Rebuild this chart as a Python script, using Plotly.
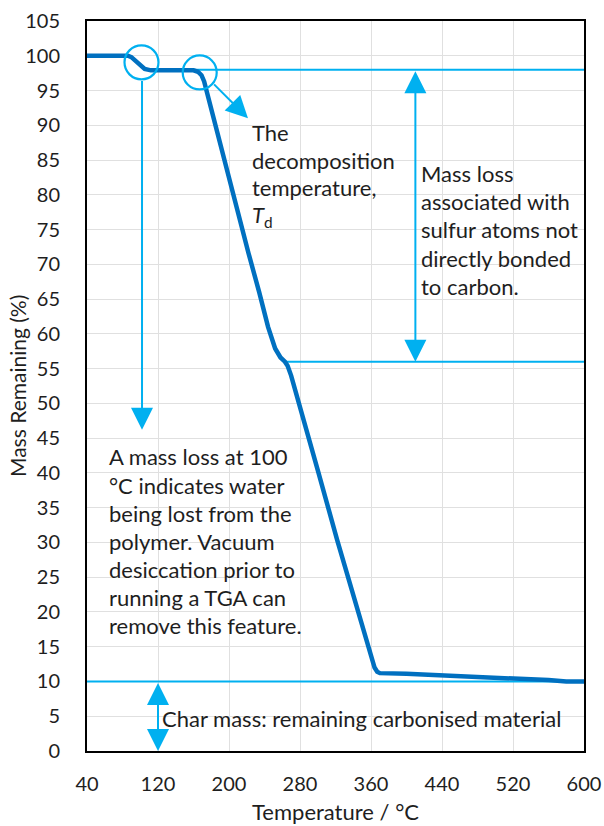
import plotly.graph_objects as go

# ---- data ----
temperature = [40, 86, 90, 95, 100, 105, 112, 160, 165, 169, 172, 176, 182, 190, 200, 212, 222, 234, 244,
               252, 258, 263, 266, 270, 275, 280, 300, 322, 340, 355, 360, 364, 367, 370, 400, 440, 480,
               520, 560, 580, 600]
mass = [100, 100, 99.8, 99.2, 98.5, 98.1, 97.9, 97.9, 97.7, 97.2, 96.3, 94.3, 91.0, 87.3, 82.6, 76.5, 71.6,
        66.0, 61.0, 57.9, 56.6, 56.0, 55.4, 54.0, 51.8, 49.6, 40.4, 30.3, 22.3, 16.0, 13.8, 12.0, 11.4,
        11.2, 11.1, 10.9, 10.7, 10.5, 10.2, 10.0, 10.0]

x_ticks = [40, 120, 200, 280, 360, 440, 520, 600]
y_ticks = list(range(0, 106, 5))

water_T = 102          # water-loss feature temperature
td_T = 167             # decomposition temperature
plateau1 = 98          # mass after water loss
plateau2 = 56          # mass after first decomposition step
char_mass = 10         # char residue
plateau1_start = 113
plateau2_start = 263
massloss_arrow_T = 410
char_arrow_T = 120

text_td = ["The", "decomposition", "temperature,", "<i>T</i><sub>d</sub>"]
text_sulfur = ["Mass loss", "associated with", "sulfur atoms not", "directly bonded", "to carbon."]
text_water = ["A mass loss at 100", "°C indicates water", "being lost from the", "polymer. Vacuum",
              "desiccation prior to", "running a TGA can", "remove this feature."]
text_char = "Char mass: remaining carbonised material"
y_title = "Mass Remaining (%)"
x_title = "Temperature / °C"

DARK = "#0070C0"
LIGHT = "#00B0F0"
TXT = "#1e1e1e"
FONT = "Lato"

fig = go.Figure()
fig.add_trace(go.Scatter(x=temperature, y=mass, mode="lines",
                         line=dict(color=DARK, width=4.5), hoverinfo="skip", showlegend=False))

# horizontal reference lines
for x0, yv in [(plateau1_start, plateau1), (plateau2_start, plateau2), (40, char_mass)]:
    fig.add_shape(type="line", x0=x0, x1=600, y0=yv, y1=yv, xref="x", yref="y",
                  line=dict(color=LIGHT, width=2), layer="between")

# circles
for cx, cy in [(water_T - 0.6, 99.05), (td_T, 97.6)]:
    fig.add_shape(type="circle", xref="x", yref="y", xsizemode="pixel", ysizemode="pixel",
                  xanchor=cx, yanchor=cy, x0=-17, x1=17, y0=-17, y1=17,
                  line=dict(color=LIGHT, width=2.2), layer="above")

arrow_common = dict(text="", showarrow=True, axref="x", ayref="y", xref="x", yref="y",
                    arrowcolor=LIGHT, arrowwidth=2, arrowhead=2, arrowsize=2.2)
# water arrow
fig.add_annotation(x=water_T, y=46.2, ax=water_T, ay=96.6, **arrow_common)
# Td arrow
fig.add_annotation(x=221.4, y=91.0, ax=181.5, ay=96.1, **arrow_common)
# mass loss double arrow
fig.add_annotation(x=massloss_arrow_T, y=plateau2, ax=massloss_arrow_T, ay=plateau1,
                   arrowside="end+start", startarrowhead=2, startarrowsize=2.2, **arrow_common)
# char double arrow
fig.add_annotation(x=char_arrow_T, y=0, ax=char_arrow_T, ay=char_mass,
                   arrowside="end+start", startarrowhead=2, startarrowsize=2.2, **arrow_common)


def text_block(lines, x, y, spacing):
    for i, ln in enumerate(lines):
        fig.add_annotation(x=x, y=y, xref="x", yref="y", text=ln, showarrow=False,
                           xanchor="left", yanchor="middle", yshift=-i * spacing,
                           font=dict(family=FONT, size=22, color=TXT))


text_block(text_td, 223.5, 89.0, 27.8)
text_block(text_sulfur, 414.0, 83.1, 28.3)
text_block(text_water, 62.5, 42.3, 28.1)
text_block([text_char], 122.3, 4.7, 0)

# y-axis title placed as a rotated annotation left of the tick labels
fig.add_annotation(x=0, y=0.5, xref="paper", yref="paper", text=y_title, showarrow=False,
                   textangle=-90, xanchor="center", yanchor="middle", xshift=-70,
                   font=dict(family=FONT, size=21, color=TXT))

axis_common = dict(showline=True, linecolor="black", linewidth=2, mirror=True,
                   showgrid=True, gridcolor="#e0e0e0", gridwidth=1, zeroline=False,
                   automargin=False,
                   ticks="", tickfont=dict(family=FONT, size=20, color=TXT))

fig.update_xaxes(range=[40, 600], tickvals=x_ticks, ticktext=[str(v) for v in x_ticks],
                 ticklabelstandoff=14,
                 title=dict(text=x_title, font=dict(family=FONT, size=22, color=TXT), standoff=11),
                 **axis_common)
fig.update_yaxes(range=[0, 105], tickvals=y_ticks, ticktext=[str(v) for v in y_ticks],
                 ticklabelstandoff=21,
                 **axis_common)

fig.update_layout(width=604, height=826, margin=dict(l=87, r=20, t=21, b=75),
                  paper_bgcolor="white", plot_bgcolor="white", showlegend=False,
                  font=dict(family=FONT, color=TXT))

# remove the default 8px body margin so the figure fills the window exactly
fig.write_html("out.html", config={"displayModeBar": False},
               post_script="document.body.style.margin='0px';")
